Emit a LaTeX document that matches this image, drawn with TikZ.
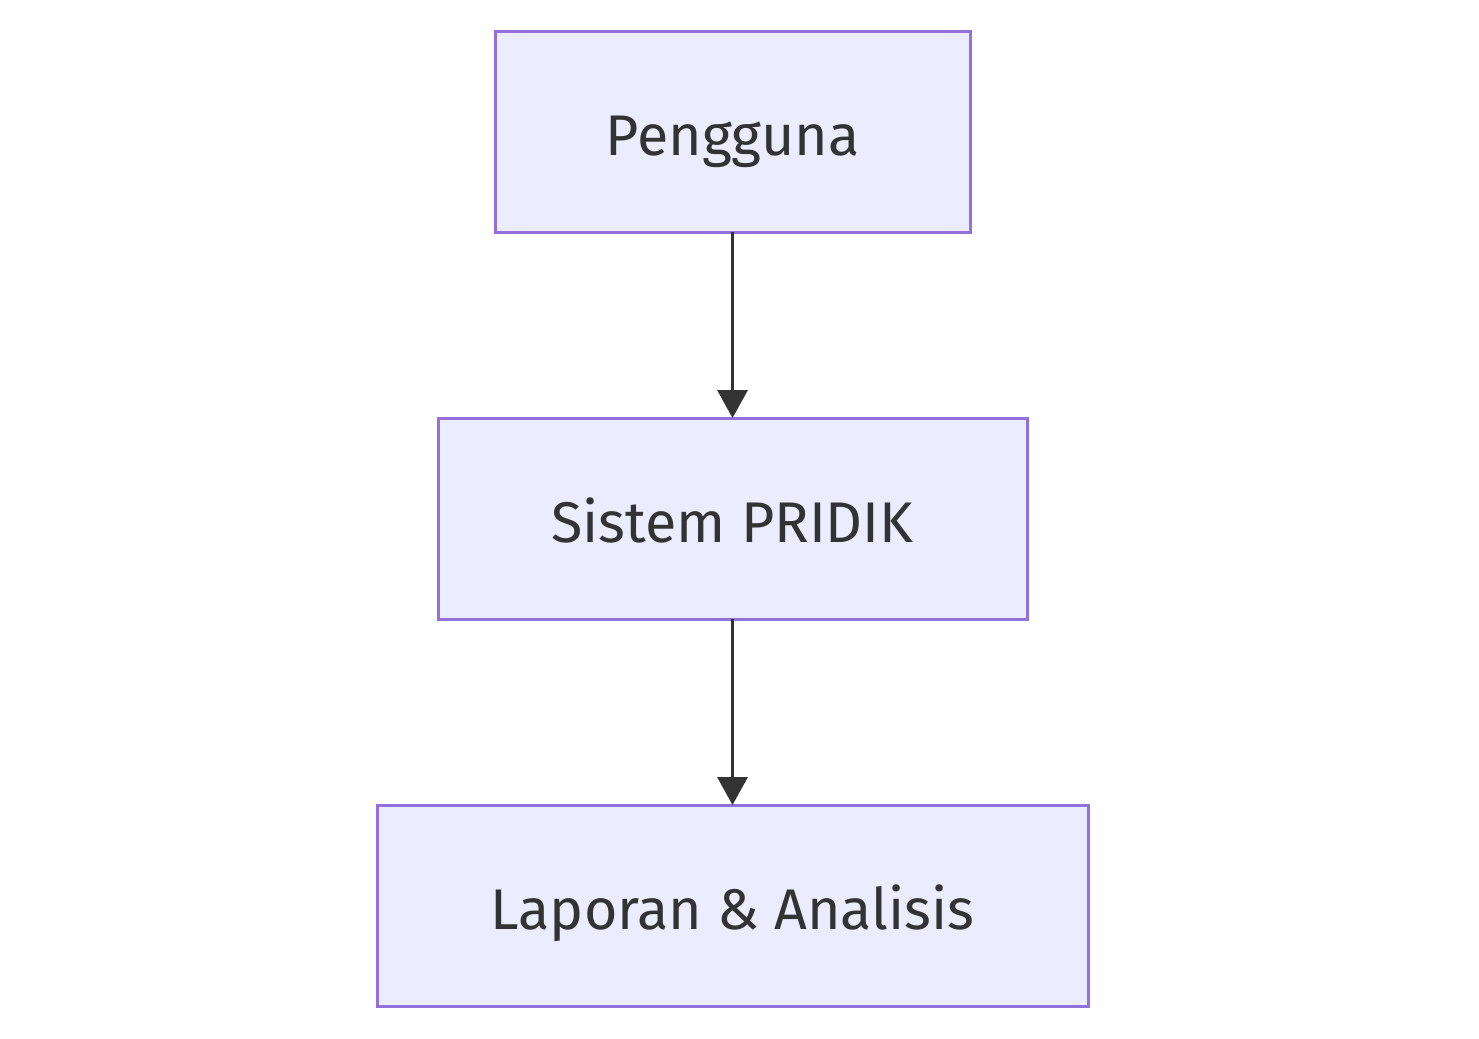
\documentclass[tikz,border=0pt]{standalone}
\usepackage{fontspec}
\setmainfont{Fira Sans}
\usetikzlibrary{arrows.meta}
\definecolor{boxfill}{HTML}{ECECFF}
\definecolor{boxdraw}{HTML}{9370DB}
\definecolor{txt}{HTML}{333333}
\begin{document}
\begin{tikzpicture}[x=0.75pt,y=-0.75pt,
  box/.style={draw=boxdraw,fill=boxfill,line width=3pt*0.75,inner sep=0pt,outer sep=0pt,
    text=txt,font=\fontsize{43}{47}\selectfont},
  lbl/.style={text=txt,font=\fontsize{43}{47}\selectfont,inner sep=0pt},
  conn/.style={draw=txt,line width=3.5pt*0.75,-{Triangle[length=21pt,width=22.5pt]}}]
\useasboundingbox (0,0) rectangle (1479,1039);
\fill[white] (0,0) rectangle (1479,1039);
\node[box,minimum width=475*0.75pt,minimum height=201*0.75pt] (a) at (732.5,131.5) {};
\node[box,minimum width=589*0.75pt,minimum height=201*0.75pt] (b) at (732.5,518.5) {};
\node[box,minimum width=711*0.75pt,minimum height=201*0.75pt] (c) at (732.5,905.5) {};
\node[lbl,anchor=base] (ta) at (732.5,155) {Pengguna};
\node[lbl,anchor=base] (tb) at (732.5,542) {Sistem PRIDIK};
\node[lbl,anchor=base] (tc) at (732.5,929) {Laporan \& Analisis};
\draw[conn] (a.south) -- (b.north);
\draw[conn] (b.south) -- (c.north);
\end{tikzpicture}
\end{document}
